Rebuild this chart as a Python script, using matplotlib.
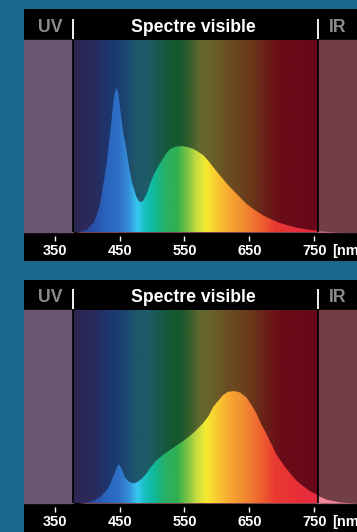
import numpy as np
import matplotlib
matplotlib.use("Agg")
import matplotlib.pyplot as plt
from matplotlib.colors import LinearSegmentedColormap
from matplotlib.patches import Rectangle

# ---------------- data ----------------
tick_values = [350, 450, 550, 650, 750]
tick_labels = ["350", "450", "550", "650", "750"]
header_title = "Spectre visible"
uv_label = "UV"
ir_label = "IR"
unit_label = "[nm]"

uv_range = (302.7, 378.7)
visible_range = (378.7, 756.0)
ir_range = (756.0, 815.8)

# panel 1 : cool white LED spectrum (relative intensity)
wl_1 = [380, 390, 400, 410, 415, 420, 425, 430, 436, 441, 445, 448, 451, 455,
        460, 465, 469, 476, 480, 483, 487, 493, 499, 505, 512, 520, 527, 535,
        545, 551, 563, 570, 579, 587, 594, 607, 620, 633, 645, 658, 671, 684,
        697, 710, 722, 735, 748, 760, 775, 790]
int_1 = [0.0, 0.003, 0.012, 0.05, 0.09, 0.15, 0.25, 0.356, 0.53, 0.70, 0.752,
         0.725, 0.64, 0.53, 0.44, 0.33, 0.26, 0.182, 0.16, 0.156, 0.165, 0.21,
         0.27, 0.315, 0.356, 0.40, 0.43, 0.443, 0.448, 0.445, 0.434, 0.42,
         0.40, 0.37, 0.339, 0.285, 0.234, 0.19, 0.148, 0.115, 0.087, 0.065,
         0.047, 0.034, 0.023, 0.015, 0.009, 0.005, 0.002, 0.0]

# panel 2 : warm white LED spectrum (relative intensity)
wl_2 = [385, 395, 404, 412, 420, 430, 436, 440, 444, 447, 449, 452, 458, 463,
        468, 472, 477, 484, 491, 499, 507, 517, 527, 540, 553, 566, 578, 587,
        594, 602, 609, 617, 627, 636, 645, 653, 661, 668, 676, 684, 691, 699,
        707, 715, 722, 730, 738, 745, 753, 758, 768, 779, 790, 805, 815]
int_2 = [0.0, 0.002, 0.006, 0.015, 0.031, 0.066, 0.10, 0.135, 0.17, 0.195,
         0.20, 0.185, 0.135, 0.115, 0.105, 0.103, 0.108, 0.125, 0.152, 0.19,
         0.221, 0.25, 0.273, 0.303, 0.334, 0.37, 0.411, 0.45, 0.497, 0.53,
         0.558, 0.576, 0.58, 0.572, 0.549, 0.51, 0.463, 0.41, 0.36, 0.305,
         0.256, 0.215, 0.178, 0.145, 0.118, 0.095, 0.075, 0.058, 0.045, 0.035,
         0.02, 0.012, 0.005, 0.002, 0.0]

series = [(wl_1, int_1), (wl_2, int_2)]

# ---------------- styles ----------------
BG = "#1a688c"
UV_COLOR = "#6b5571"
IR_COLOR = "#723f47"
IR_TAIL = "#f0869a"
HEADER_GRAY = "#8c8c8c"

dark_stops = [(380, "#2c2752"), (410, "#2a2a5c"), (430, "#20346a"),
              (445, "#1a3c70"), (460, "#1c466e"), (475, "#1e566c"),
              (495, "#1e5c68"), (510, "#185a50"), (525, "#145a38"),
              (545, "#18592c"), (560, "#3a5e2c"), (575, "#646a30"),
              (595, "#6a6028"), (615, "#6a5024"), (640, "#6a421e"),
              (660, "#6a3218"), (680, "#6a1c18"), (700, "#6a0c18"),
              (756, "#680818")]
bright_stops = [(380, "#2a3c90"), (410, "#2a50a8"), (430, "#2a64bc"),
                (450, "#3070c8"), (465, "#3490d8"), (478, "#38c8f0"),
                (490, "#18c0c0"), (505, "#10b898"), (520, "#28b068"),
                (540, "#30b050"), (555, "#78c444"), (570, "#c8dc40"),
                (585, "#f8ea30"), (600, "#f8cc30"), (620, "#f8a830"),
                (645, "#f08830"), (670, "#f06030"), (690, "#e83a30"),
                (720, "#e83038"), (756, "#e82c40")]


def make_cmap(stops, name):
    lo, hi = stops[0][0], stops[-1][0]
    return LinearSegmentedColormap.from_list(
        name, [((w - lo) / (hi - lo), c) for w, c in stops])


dark_cmap = make_cmap(dark_stops, "dark")
bright_cmap = make_cmap(bright_stops, "bright")

W, H = 357, 532
fig = plt.figure(figsize=(W / 100, H / 100), dpi=100, facecolor=BG)

# panel pixel layout: (top, header, plot, band)
panels = [(9, 31, 192, 29), (280, 30, 193, 29)]
left_px = 24

font = "Liberation Sans"

for (wl, inten), (top, hh, ph, bh) in zip(series, panels):
    total = hh + ph + bh
    ax = fig.add_axes([left_px / W, 1 - (top + total) / H,
                       (W - left_px) / W, total / H])
    ax.set_xlim(uv_range[0], ir_range[1])
    ymin, ymax = -bh / ph, 1 + hh / ph
    ax.set_ylim(ymin, ymax)
    ax.axis("off")
    px = 1.0 / ph  # one pixel in y data units

    # header and bottom band
    ax.add_patch(Rectangle((uv_range[0], 1), ir_range[1] - uv_range[0],
                           ymax - 1, color="black", zorder=1))
    ax.add_patch(Rectangle((uv_range[0], ymin), ir_range[1] - uv_range[0],
                           -ymin, color="black", zorder=1))
    # UV / IR regions
    ax.add_patch(Rectangle((uv_range[0], 0), uv_range[1] - uv_range[0], 1,
                           color=UV_COLOR, zorder=1))
    ax.add_patch(Rectangle((ir_range[0], 0), ir_range[1] - ir_range[0], 1,
                           color=IR_COLOR, zorder=1))

    wl_arr = np.asarray(wl, float)
    in_arr = np.asarray(inten, float)

    # IR tail of the curve (pink)
    ax.fill_between(wl_arr, 0, in_arr, color=IR_TAIL, lw=0, zorder=2)

    # dark visible-spectrum background
    grad = np.linspace(0, 1, 600)[None, :]
    ax.imshow(grad, cmap=dark_cmap, aspect="auto", interpolation="bilinear",
              extent=(visible_range[0], visible_range[1], 0, 1), zorder=3)

    # bright spectrum clipped to the curve
    poly = ax.fill_between(wl_arr, 0, in_arr, facecolor="none",
                           edgecolor="none", zorder=0)
    im = ax.imshow(grad, cmap=bright_cmap, aspect="auto",
                   interpolation="bilinear",
                   extent=(visible_range[0], visible_range[1], 0, 1), zorder=4)
    im.set_clip_path(poly.get_paths()[0], transform=ax.transData)

    # black separators in the plot area
    for xb in (uv_range[1], ir_range[0]):
        ax.plot([xb, xb], [0, 1], color="black", lw=1.25, zorder=5,
                solid_capstyle="butt")
        # white separators in the header
        ax.plot([xb, xb], [1 + 1 * px, 1 + 21 * px], color="#f2f2f2",
                lw=1.4, zorder=5, solid_capstyle="butt")

    # header texts
    base = 1 + 8 * px
    ax.text((uv_range[0] + uv_range[1]) / 2 + 2, base, uv_label,
            color=HEADER_GRAY, fontsize=12.7, fontweight="bold",
            family=font, ha="center", va="baseline", zorder=6)
    ax.text((visible_range[0] + visible_range[1]) / 2 - 4, base,
            header_title, color="white", fontsize=12.7, fontweight="bold",
            family=font, ha="center", va="baseline", zorder=6)
    ax.text(ir_range[0] + 30.5, base, ir_label,
            color=HEADER_GRAY, fontsize=12.7, fontweight="bold",
            family=font, ha="center", va="baseline", zorder=6)

    # ticks and tick labels
    for tv, tl in zip(tick_values, tick_labels):
        ax.plot([tv, tv], [-4 * px, -9 * px], color="white", lw=1.0,
                zorder=6, solid_capstyle="butt")
        ax.text(tv, -23 * px, tl, color="white", fontsize=10.5,
                fontweight="bold", family=font, ha="center", va="baseline",
                zorder=6)
    ax.annotate(unit_label, xy=(tick_values[-1], -23 * px),
                xytext=(12.5, 0), textcoords="offset points",
                color="white", fontsize=10.5, fontweight="bold",
                family=font, ha="left", va="baseline", zorder=6,
                annotation_clip=False)

fig.savefig("out.png", dpi=100, facecolor=BG)
